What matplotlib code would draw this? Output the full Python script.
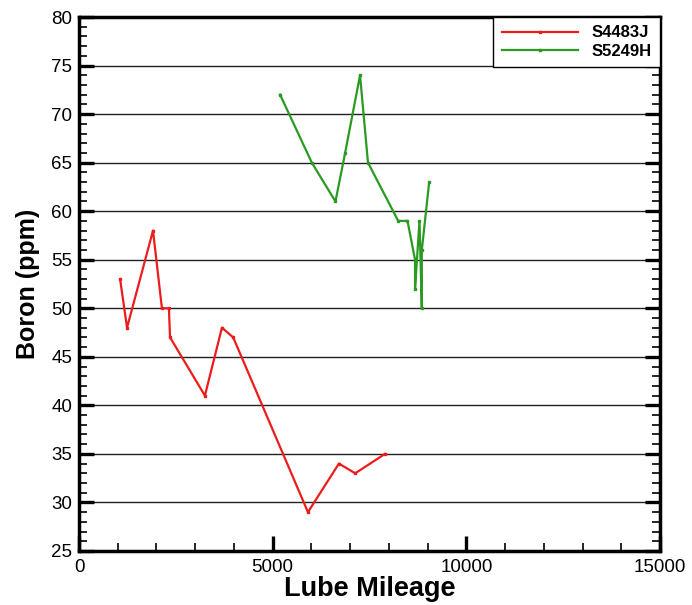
import matplotlib.pyplot as plt
from matplotlib.ticker import MultipleLocator

plt.rcParams['font.family'] = ['Liberation Sans', 'DejaVu Sans']

# boron readings vs. lube mileage for two units
s4483j_miles = [1060, 1240, 1910, 2140, 2320, 2350, 3250, 3690, 3980, 5910, 6710, 7130, 7900]
s4483j_boron = [53, 48, 58, 50, 50, 47, 41, 48, 47, 29, 34, 33, 35]

s5249h_miles = [5190, 6010, 6620, 6870, 7255, 7460, 8240, 8480, 8675, 8675, 8790, 8850, 8850, 9040]
s5249h_boron = [72, 65, 61, 66, 74, 65, 59, 59, 55, 52, 59, 50, 56, 63]

fig = plt.figure(figsize=(6.92, 6.05), dpi=100)
ax = fig.add_axes([0.1142, 0.0893, 0.8396, 0.8826])

ax.plot(s4483j_miles, s4483j_boron, color='#ec1c1c', lw=1.6, marker='s', ms=1.9,
        label='S4483J')
ax.plot(s5249h_miles, s5249h_boron, color='#2a9a22', lw=1.6, marker='s', ms=1.9,
        label='S5249H')

ax.set_xlim(0, 15000)
ax.set_ylim(25, 80)
ax.xaxis.set_major_locator(MultipleLocator(5000))
ax.xaxis.set_minor_locator(MultipleLocator(1000))
ax.yaxis.set_major_locator(MultipleLocator(5))
ax.yaxis.set_minor_locator(MultipleLocator(1))

ax.tick_params(which='major', direction='in', length=11, width=2.4, labelsize=13.5,
               right=True, top=False)
ax.tick_params(axis='x', which='major', pad=6)
ax.tick_params(axis='y', which='major', pad=5)
ax.tick_params(which='minor', direction='in', length=6, width=1.2, right=True, top=False)
for s in ax.spines.values():
    s.set_linewidth(2.5)

ax.yaxis.grid(True, which='major', color='#222222', lw=1.0)
ax.set_axisbelow(True)

ax.set_xlabel('Lube Mileage', fontsize=19.5, fontweight='bold', labelpad=0)
ax.set_ylabel('Boron (ppm)', fontsize=18, fontweight='bold', labelpad=8)

leg = ax.legend(loc='upper right', bbox_to_anchor=(1, 1), borderaxespad=0,
                fancybox=False, framealpha=1, edgecolor='black', numpoints=1,
                handlelength=4.6, prop={'weight': 'bold', 'size': 12},
                borderpad=0.5, labelspacing=0.2)
leg.get_frame().set_linewidth(1.0)

fig.savefig('out.png', dpi=100)
